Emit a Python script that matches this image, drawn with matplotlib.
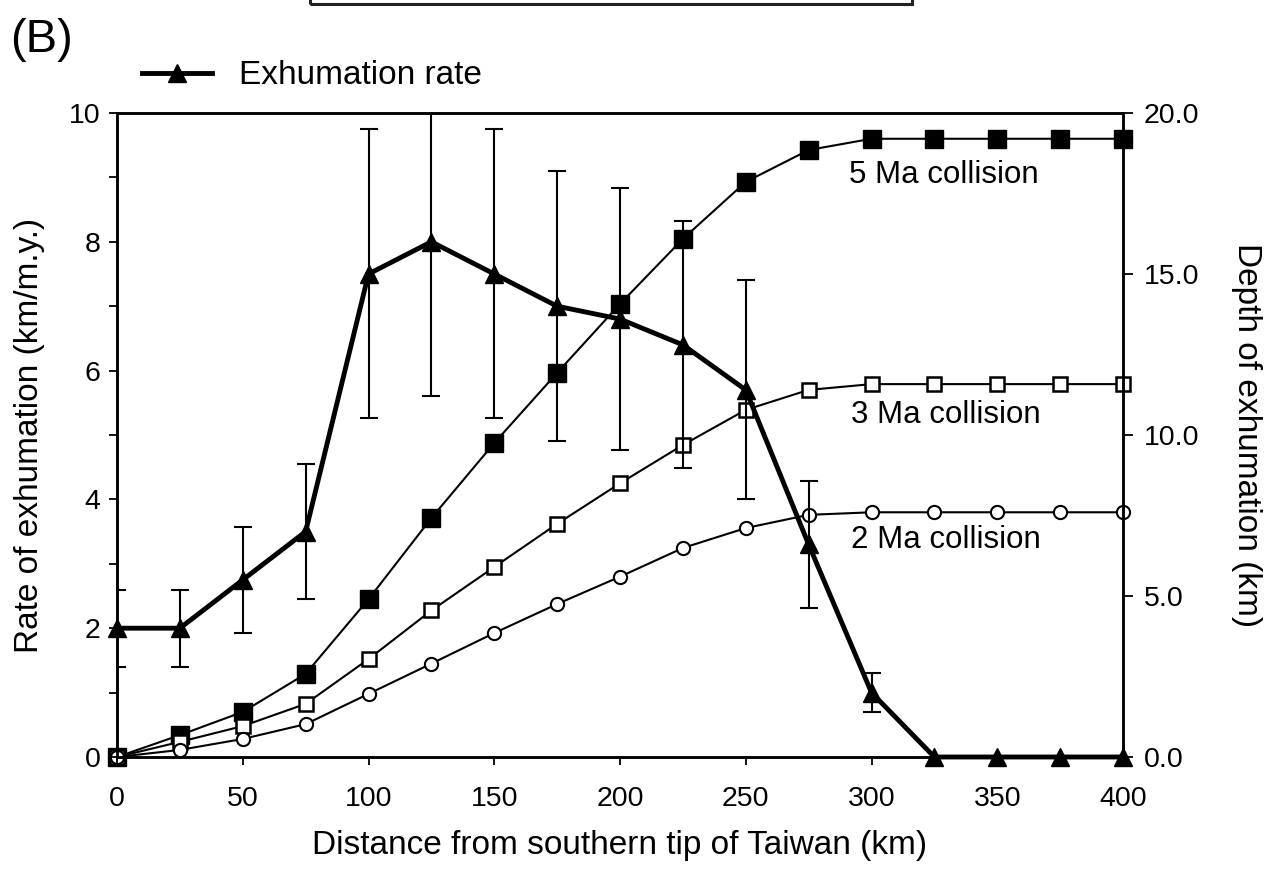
import matplotlib
matplotlib.use("Agg")
import matplotlib.pyplot as plt
from matplotlib.patches import Rectangle

plt.rcParams['font.family'] = ['Liberation Sans', 'DejaVu Sans']

# distance from southern tip of Taiwan (km)
dist = [0, 25, 50, 75, 100, 125, 150, 175, 200, 225, 250, 275, 300, 325, 350, 375, 400]

# exhumation rate (km/m.y.) with error bar bounds (first 13 points)
rate = [2.0, 2.0, 2.75, 3.5, 7.5, 8.0, 7.5, 7.0, 6.8, 6.4, 5.7, 3.3, 1.0, 0, 0, 0, 0]
rate_hi = [2.6, 2.6, 3.57, 4.55, 9.75, 10.4, 9.75, 9.1, 8.84, 8.32, 7.41, 4.29, 1.3]
rate_lo = [1.4, 1.4, 1.93, 2.45, 5.26, 5.6, 5.26, 4.9, 4.77, 4.49, 4.0, 2.31, 0.7]

# depth of exhumation (km) for the three collision ages
depth_5ma = [0, 0.68, 1.4, 2.58, 4.9, 7.42, 9.75, 11.93, 14.07, 16.09, 17.86, 18.85,
             19.2, 19.2, 19.2, 19.2, 19.2]
depth_3ma = [0, 0.47, 0.96, 1.65, 3.04, 4.55, 5.9, 7.24, 8.5, 9.69, 10.78, 11.4,
             11.58, 11.58, 11.58, 11.58, 11.58]
depth_2ma = [0, 0.22, 0.56, 1.02, 1.96, 2.9, 3.85, 4.75, 5.6, 6.49, 7.11, 7.52,
             7.6, 7.6, 7.6, 7.6, 7.6]

fig = plt.figure(figsize=(12.75, 8.77), dpi=100)
ax = fig.add_axes([117/1275, 1 - 757/877, 1006/1275, 644/877])
ax2 = ax.twinx()

# depth curves on the right axis
ax2.plot(dist, depth_5ma, color='black', lw=1.5, marker='s', ms=12.5,
         mfc='black', mec='black', clip_on=False)
ax2.plot(dist, depth_3ma, color='black', lw=1.5, marker='s', ms=9.5,
         mfc='white', mec='black', mew=1.8, clip_on=False)
ax2.plot(dist, depth_2ma, color='black', lw=1.5, marker='o', ms=9.5,
         mfc='white', mec='black', mew=1.5, clip_on=False)
ax2.set_ylim(0, 20)
ax2.set_yticks([0, 5, 10, 15, 20])
ax2.set_yticklabels(['0.0', '5.0', '10.0', '15.0', '20.0'])
ax2.tick_params(axis='y', direction='out', length=7, width=1.3, labelsize=20.5, pad=8)
ax2.set_ylabel('Depth of exhumation (km)', fontsize=24, rotation=270)
ax2.yaxis.set_label_coords(1.138, 0.5)

# exhumation rate on the left axis, drawn on top
ax.set_zorder(ax2.get_zorder() + 1)
ax.patch.set_visible(False)
n = len(rate_hi)
yerr = [[rate[i] - rate_lo[i] for i in range(n)], [rate_hi[i] - rate[i] for i in range(n)]]
ax.errorbar(dist[:n], rate[:n], yerr=yerr, fmt='none', ecolor='black',
            elinewidth=1.5, capsize=6.5, capthick=1.5)
ax.plot(dist, rate, color='black', lw=3.5, marker='^', ms=13, mfc='black',
        mec='black', clip_on=False, label='Exhumation rate')

ax.set_xlim(0, 400)
ax.set_ylim(0, 10)
ax.set_xticks(range(0, 401, 50))
ax.set_yticks([0, 2, 4, 6, 8, 10])
ax.set_yticks([1, 3, 5, 7, 9], minor=True)
ax.tick_params(axis='both', which='both', direction='out', length=6, width=1.3,
               labelsize=20.5)
ax.tick_params(axis='y', pad=6)
ax.tick_params(axis='x', pad=15)
ax.set_xlabel('Distance from southern tip of Taiwan (km)', fontsize=24, labelpad=13)
ax.set_ylabel('Rate of exhumation (km/m.y.)', fontsize=24)
ax.yaxis.set_label_coords(-0.0716, 0.5)

for a in (ax, ax2):
    for s in a.spines.values():
        s.set_linewidth(1.8)

# series labels
ax.text(291, 9.04, '5 Ma collision', fontsize=22.5, ha='left', va='center')
ax.text(292, 5.31, '3 Ma collision', fontsize=22.5, ha='left', va='center')
ax.text(292, 3.37, '2 Ma collision', fontsize=22.5, ha='left', va='center')

ax.legend(loc='center left', bbox_to_anchor=(142/1275, 1 - 76/877),
          bbox_transform=fig.transFigure, frameon=False, fontsize=24,
          handlelength=2.1, handletextpad=0.8, borderpad=0, borderaxespad=0)

fig.text(10/1275, 1 - 40/877, '(B)', fontsize=34, ha='left', va='center')

# edge of the panel box above, cut by the page
fig.add_artist(Rectangle((310/1275, 1 - 4/877), 602/1275, 0.05, fill=False,
                         lw=2.2, edgecolor='#222222', transform=fig.transFigure,
                         clip_on=False))

fig.savefig('out.png', dpi=100)
